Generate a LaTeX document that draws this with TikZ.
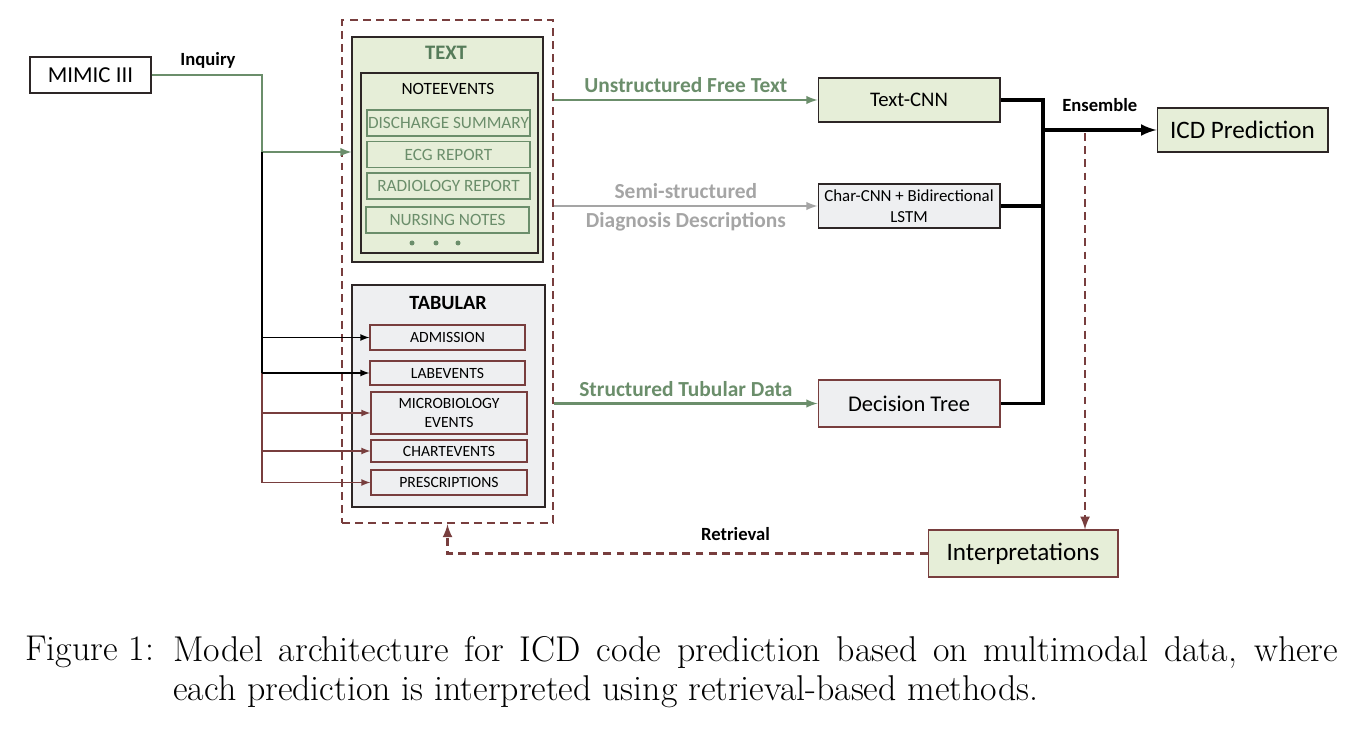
\documentclass[tikz,border=0pt]{standalone}
\usepackage{fontspec}
\newfontfamily\calibri{Carlito}
\usepackage{tikz}
\usetikzlibrary{arrows}
\definecolor{lgreen}{RGB}{230,238,216}
\definecolor{lgray}{RGB}{238,239,241}
\definecolor{tgreen}{RGB}{107,142,107}
\definecolor{dgreen}{RGB}{86,124,90}
\definecolor{tgray}{RGB}{165,165,165}
\definecolor{dred}{RGB}{120,62,62}
\definecolor{edge}{RGB}{45,38,38}
\tikzset{
  box/.style={draw=edge, line width=0.6pt, inner sep=1pt, align=center, font=\calibri},
  gbox/.style={box, fill=lgreen},
  ybox/.style={box, fill=lgray},
  sub/.style={draw=tgreen, line width=0.6pt, fill=lgreen, text=tgreen, minimum width=3.26cm, minimum height=0.52cm, inner sep=0pt, font=\calibri\fontsize{9.8}{11}\selectfont},
  tab/.style={ybox, draw=dred, font=\calibri\fontsize{8.9}{11}\selectfont, inner sep=0pt},
  lbl/.style={font=\calibri\bfseries\fontsize{10.6}{12}\selectfont},
  flowlbl/.style={font=\calibri\bfseries\fontsize{12.2}{14}\selectfont},
  flow/.style={-latex, line width=1.2pt},
  ens/.style={line width=2pt, black},
  back/.style={dred, line width=1.5pt, dash pattern=on 4.5pt off 3pt},
  captxt/.style={anchor=west, inner sep=0pt, font=\fontsize{20.4}{24}\selectfont}
}
\begin{document}
\begin{tikzpicture}[x=0.02cm, y=-0.02cm]
\useasboundingbox (0,0) rectangle (1358,729);

% sources
\node[box, minimum width=2.42cm, minimum height=0.72cm, font=\calibri\fontsize{13}{15}\selectfont] (mimic) at (90.5,75) {MIMIC III};
\node[draw=dred, line width=1.5pt, dash pattern=on 4.5pt off 3pt, minimum width=4.22cm, minimum height=10.06cm] (data) at (447.5,271.5) {};

% text part
\node[gbox, minimum width=3.82cm, minimum height=4.5cm] (textbox) at (447.5,149.5) {};
\node[font=\calibri\bfseries\fontsize{11.7}{13}\selectfont, text=dgreen] (textlbl) at (446,53) {TEXT};
\node[gbox, minimum width=3.54cm, minimum height=3.6cm] (notes) at (449.5,163) {};
\node[font=\calibri\fontsize{9.8}{11}\selectfont] (noteslbl) at (448,89) {NOTEEVENTS};
\node[sub] (disch) at (448.5,123) {DISCHARGE SUMMARY};
\node[sub] (ecg) at (448.5,154.5) {ECG REPORT};
\node[sub] (radio) at (448.5,186) {RADIOLOGY REPORT};
\node[sub] (nurse) at (447.5,220) {NURSING NOTES};
\foreach \x in {412,436,458}
  \fill[tgreen] (\x,243) circle (2.5);

% tabular part
\node[ybox, minimum width=3.86cm, minimum height=4.44cm] (tabbox) at (448.5,396) {};
\node[font=\calibri\bfseries\fontsize{11.5}{13}\selectfont] (tablbl) at (448,303) {TABULAR};
\node[tab, minimum width=3.1cm, minimum height=0.5cm] (adm) at (447.5,337.5) {ADMISSION};
\node[tab, minimum width=3.1cm, minimum height=0.48cm] (lab) at (447.5,373) {LABEVENTS};
\node[tab, minimum width=3.12cm, minimum height=0.84cm] (micro) at (449,413) {MICROBIOLOGY\\EVENTS};
\node[tab, minimum width=3.12cm, minimum height=0.44cm] (chart) at (449,451) {CHARTEVENTS};
\node[tab, minimum width=3.12cm, minimum height=0.5cm] (presc) at (449,482.5) {PRESCRIPTIONS};

% models
\node[gbox, minimum width=3.64cm, minimum height=0.88cm, font=\calibri\fontsize{11.8}{13}\selectfont] (textcnn) at (909,100) {Text-CNN};
\node[ybox, minimum width=3.64cm, minimum height=0.88cm, font=\calibri\fontsize{9.6}{12}\selectfont] (charcnn) at (909,206) {Char-CNN + Bidirectional\\LSTM};
\node[ybox, draw=dred, minimum width=3.64cm, minimum height=0.94cm, font=\calibri\fontsize{12.8}{15}\selectfont] (dtree) at (909,403.5) {Decision Tree};
\node[gbox, minimum width=3.42cm, minimum height=0.88cm, font=\calibri\fontsize{14.3}{16}\selectfont] (icd) at (1242.5,130) {ICD Prediction};
\node[gbox, draw=dred, minimum width=3.8cm, minimum height=0.94cm, font=\calibri\fontsize{14.3}{16}\selectfont] (interp) at (1023,553.5) {Interpretations};

% inquiry
\coordinate (inq) at (262,75);
\coordinate (split) at (262,152);
\coordinate (mid) at (262,373);
\draw[tgreen, line width=1.2pt] (mimic.east) -- (inq) -- (split);
\node[lbl] (inqlbl) at (208,60) {Inquiry};
\draw[flow, tgreen] (split) -- (textbox.west |- split);
\draw[black, line width=1.1pt] (split) -- (mid);
\draw[dred, line width=1.1pt] (mid) -- (split |- presc);
\draw[-latex, line width=0.8pt, black] (split |- adm) -- (adm.west);
\draw[-latex, line width=0.8pt, black] (split |- lab) -- (lab.west);
\foreach \n in {micro,chart,presc}
  \draw[-latex, line width=0.8pt, dred] (split |- \n) -- (\n.west);

% modalities
\draw[flow, tgreen] (data.east |- textcnn) -- (textcnn.west)
  node[midway, above, text=tgreen, flowlbl] {Unstructured Free Text};
\draw[flow, tgray] (data.east |- charcnn) -- (charcnn.west)
  node[midway, above, text=tgray, flowlbl] {Semi-structured}
  node[midway, below, text=tgray, flowlbl] {Diagnosis Descriptions};
\draw[flow, tgreen] (data.east |- dtree) -- (dtree.west)
  node[midway, above, text=tgreen, flowlbl] {Structured Tubular Data};

% ensemble
\coordinate (ensp) at (1043,130);
\draw[ens] (textcnn.east) -| (ensp) |- (dtree.east);
\draw[ens] (charcnn.east) -- (ensp |- charcnn);
\draw[ens, -latex] (ensp) -- (icd.west) node[midway, above=6pt, lbl] {Ensemble};

% interpretation
\coordinate (tap) at (1085,133);
\draw[back, -latex] (tap) -- (tap |- interp.north);
\draw[back, -latex] (interp.west) -| (data.south) node[pos=0.2, above=3pt, lbl, text=black] {Retrieval};

% caption
\node[captxt] (capnum) at (25,652) {Figure 1:};
\node[captxt] (cap1) at (173,652) {\makebox[23.3cm][s]{Model architecture for ICD code prediction based on multimodal data, where}};
\node[captxt] (cap2) at (173,692) {each prediction is interpreted using retrieval-based methods.};
\end{tikzpicture}
\end{document}
